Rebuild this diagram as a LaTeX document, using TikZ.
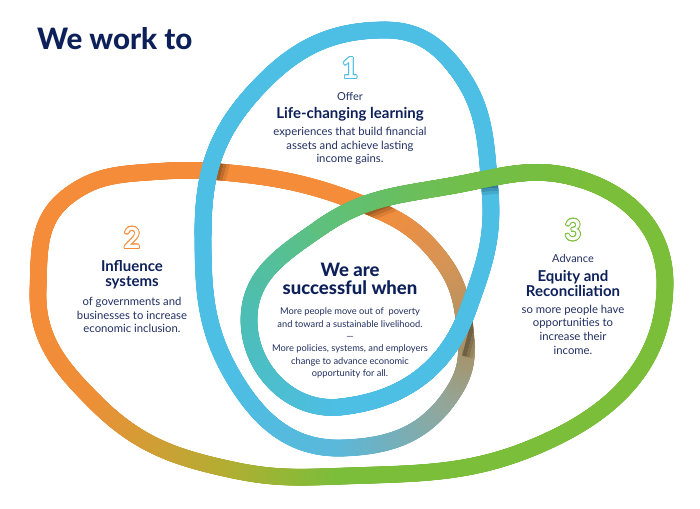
\documentclass[tikz,border=0pt]{standalone}
\usepackage{fontspec}
\setmainfont{Lato}
\IfFontExistsTF{Lato Heavy}{\newfontfamily\heavyfont{Lato Heavy}}{%
  \IfFontExistsTF{Lato Black}{\newfontfamily\heavyfont{Lato Black}}{\newcommand\heavyfont{\bfseries}}}
\usetikzlibrary{decorations.markings,calc}
\definecolor{cblue}{RGB}{77,190,228}
\definecolor{corange}{RGB}{245,140,58}
\definecolor{cgreen}{RGB}{122,190,58}
\definecolor{cA4}{RGB}{90,184,218}
\definecolor{cA5}{RGB}{148,166,152}
\definecolor{cA6}{RGB}{168,146,102}
\definecolor{cA7}{RGB}{214,148,86}
\definecolor{cA12}{RGB}{238,142,55}
\definecolor{cA13}{RGB}{178,174,50}
\definecolor{cA18}{RGB}{112,190,76}
\definecolor{cA19}{RGB}{94,192,124}
\definecolor{cA20}{RGB}{76,190,180}
\definecolor{navy}{RGB}{14,32,90}
\definecolor{bodyc}{RGB}{34,48,98}
\tikzset{
  rib/.style 2 args={decorate, decoration={markings,
    mark=between positions 0 and 1 step 0.8pt with {%
      \pgfmathsetmacro\fracd{\pgfkeysvalueof{/pgf/decoration/mark info/distance from start}/\pgfdecoratedpathlength}%
      \pgfmathsetmacro\mixp{max(0,min(100,100*(1-\fracd)))}%
      \fill[#1!\mixp!#2] (0,0) circle (8.4pt);}}},
  shade/.style={line width=16.8pt, draw=#1},
  headtxt/.style={text=navy, font=\bfseries\fontsize{15}{15}\selectfont, align=center, inner sep=0pt},
  bighead/.style={text=navy, font=\heavyfont\fontsize{18.5}{18.5}\selectfont, align=center, inner sep=0pt},
  bodytxt/.style={text=bodyc, font=\fontsize{11.3}{13.6}\selectfont, align=center, inner sep=0pt},
  smallbody/.style={text=bodyc, font=\fontsize{9.3}{12.4}\selectfont, align=center, inner sep=0pt},
  leadtxt/.style={text=bodyc, font=\fontsize{11}{13}\selectfont, inner sep=0pt},
  digit/.style={font=\bfseries\fontsize{29}{29}\selectfont, inner sep=0pt},
  titletxt/.style={text=navy, font=\heavyfont\fontsize{29.5}{30}\selectfont, inner sep=0pt}
}
\newcommand\outdigit[3]{%
  \foreach \ang in {0,20,...,340} {\node[digit, text=#2] at ($(#1)+(\ang:0.75pt)$) {#3};}
  \node[digit, text=white] at (#1) {#3};}
% clip to a band beside an over-strand: centre, side angle, from, to, half length
\newcommand\bandclip[5]{%
  \clip ($(#1)+(#2:#3)+(#2+90:#5)$) -- ($(#1)+(#2:#4)+(#2+90:#5)$) --
        ($(#1)+(#2:#4)+(#2-90:#5)$) -- ($(#1)+(#2:#3)+(#2-90:#5)$) -- cycle;}
\begin{document}
\begin{tikzpicture}[x=1pt,y=1pt]
\fill[white] (0,0) rectangle (700,-508);
\useasboundingbox (0,0) rectangle (700,-508);
% path points
\coordinate (A0) at (385,-30);
\coordinate (A1) at (253,-93);
\coordinate (A2) at (203,-235);
\coordinate (A3) at (237,-383);
\coordinate (A4) at (343,-448);
\coordinate (A5) at (450,-397);
\coordinate (A6) at (466,-340);
\coordinate (A7) at (440,-258);
\coordinate (A8) at (370,-207);
\coordinate (A9) at (220,-172);
\coordinate (A10) at (150,-172);
\coordinate (A10b) at (67,-197);
\coordinate (A11) at (38,-290);
\coordinate (A12) at (95,-402);
\coordinate (A13) at (233,-470);
\coordinate (A14) at (345,-476);
\coordinate (A15) at (550,-440);
\coordinate (A16) at (665,-283);
\coordinate (A17) at (583,-180);
\coordinate (A18) at (450,-186);
\coordinate (A19) at (320,-228);
\coordinate (A20) at (249,-320);
\coordinate (A21) at (340,-407);
\coordinate (A22) at (468,-310);
\coordinate (A23) at (490,-190);
\coordinate (A24) at (455,-67);
% crossing centres
\coordinate (X1) at (211,-171);
\coordinate (X2) at (369,-204);
\coordinate (X3) at (489,-178);
\coordinate (X4) at (464,-325);
% ribbon, first pass
\path[rib={cblue}{cblue}] (A0) to[out=180,in=48] (A1);
\path[rib={cblue}{cblue}] (A1) to[out=228,in=90] (A2);
\path[rib={cblue}{cblue}] (A2) to[out=270,in=122] (A3);
\path[rib={cblue}{cA4}] (A3) to[out=302,in=182] (A4);
\path[rib={cA4}{cA5}] (A4) to[out=2,in=235] (A5);
\path[rib={cA5}{cA6}] (A5) to[out=55,in=275] (A6);
\path[rib={cA6}{cA7}] (A6) to[out=95,in=308] (A7);
\path[rib={cA7}{corange}] (A7) to[out=128,in=338] (A8);
\path[rib={corange}{corange}] (A8) to[out=158,in=355] (A9);
\path[rib={corange}{corange}] (A9) to[out=175,in=4] (A10);
\path[rib={corange}{corange}] (A10) to[out=184,in=38] (A10b);
\path[rib={corange}{corange}] (A10b) to[out=218,in=88] (A11);
\path[rib={corange}{cA12}] (A11) to[out=268,in=135] (A12);
\path[rib={cA12}{cA13}] (A12) to[out=315,in=168] (A13);
\path[rib={cA13}{cgreen}] (A13) to[out=348,in=182] (A14);
\path[rib={cgreen}{cgreen}] (A14) to[out=2,in=205] (A15);
\path[rib={cgreen}{cgreen}] (A15) to[out=25,in=270] (A16);
\path[rib={cgreen}{cgreen}] (A16) to[out=90,in=342] (A17);
\path[rib={cgreen}{cA18}] (A17) to[out=162,in=10] (A18);
\path[rib={cA18}{cA19}] (A18) to[out=190,in=35] (A19);
\path[rib={cA19}{cA20}] (A19) to[out=215,in=90] (A20);
\path[rib={cA20}{cblue}] (A20) to[out=270,in=186] (A21);
\path[rib={cblue}{cblue}] (A21) to[out=6,in=250] (A22);
\path[rib={cblue}{cblue}] (A22) to[out=70,in=275] (A23);
\path[rib={cblue}{cblue}] (A23) to[out=95,in=308] (A24);
\path[rib={cblue}{cblue}] (A24) to[out=128,in=0] (A0);
% soft shadows on the under-strands
\foreach \wa/\wb/\pc in {6/10.5/66, 10.5/13.5/78, 13.5/16.5/90} {
  \begin{scope}
    \bandclip{X1}{345}{\wa}{\wb}{22}
    \draw[shade=corange!\pc!black] (A8) to[out=158,in=355] (A9) to[out=175,in=4] (A10);
  \end{scope}
  \begin{scope}
    \bandclip{X2}{292}{\wa}{\wb}{22}
    \draw[shade=corange!\pc!black] (A7) to[out=128,in=338] (A8) to[out=158,in=355] (A9);
  \end{scope}
  \begin{scope}
    \bandclip{X3}{275}{\wa}{\wb}{20}
    \draw[shade=cblue!\pc!black] (A22) to[out=70,in=275] (A23) to[out=95,in=308] (A24);
  \end{scope}
  \begin{scope}
    \bandclip{X4}{345}{\wa}{\wb}{30}
    \draw[shade=cA6!\pc!black] (A5) to[out=55,in=275] (A6) to[out=95,in=308] (A7);
  \end{scope}
}
% over-crossings
\path[rib={cblue}{cblue}] (A1) to[out=228,in=90] (A2);
\path[rib={cgreen}{cA18}] (A17) to[out=162,in=10] (A18);
\path[rib={cA18}{cA19}] (A18) to[out=190,in=35] (A19);
\path[rib={cblue}{cblue}] (A21) to[out=6,in=250] (A22);
% title
\node[titletxt, anchor=base west] (title) at (37,-50) {We work to};
% block 1
\outdigit{350,-68}{cblue}{1}
\node[leadtxt] (o1) at (350,-97) {Offer};
\node[headtxt] (h1) at (350,-114) {Life-changing learning};
\node[bodytxt] (b1) at (350,-146) {experiences that build financial\\assets and achieve lasting\\income gains.};
% block 2
\outdigit{132,-238}{corange}{2}
\node[headtxt] (h2) at (132,-275) {Influence\\systems};
\node[bodytxt] (b2) at (132,-315) {of governments and\\businesses to increase\\economic inclusion.};
% block 3
\outdigit{573,-230}{cgreen}{3}
\node[leadtxt] (o3) at (573,-258) {Advance};
\node[headtxt] (h3) at (573,-283) {Equity and\\Reconciliation};
\node[bodytxt] (b3) at (573,-329.5) {so more people have\\opportunities to\\increase their\\income.};
% centre
\node[bighead] (hc) at (350,-279) {We are\\successful when};
\node[smallbody] (bc) at (350,-343) {More people move out of\ \ poverty\\and toward a sustainable livelihood.\\—\\More policies, systems, and employers\\change to advance economic\\opportunity for all.};
\end{tikzpicture}
\end{document}
